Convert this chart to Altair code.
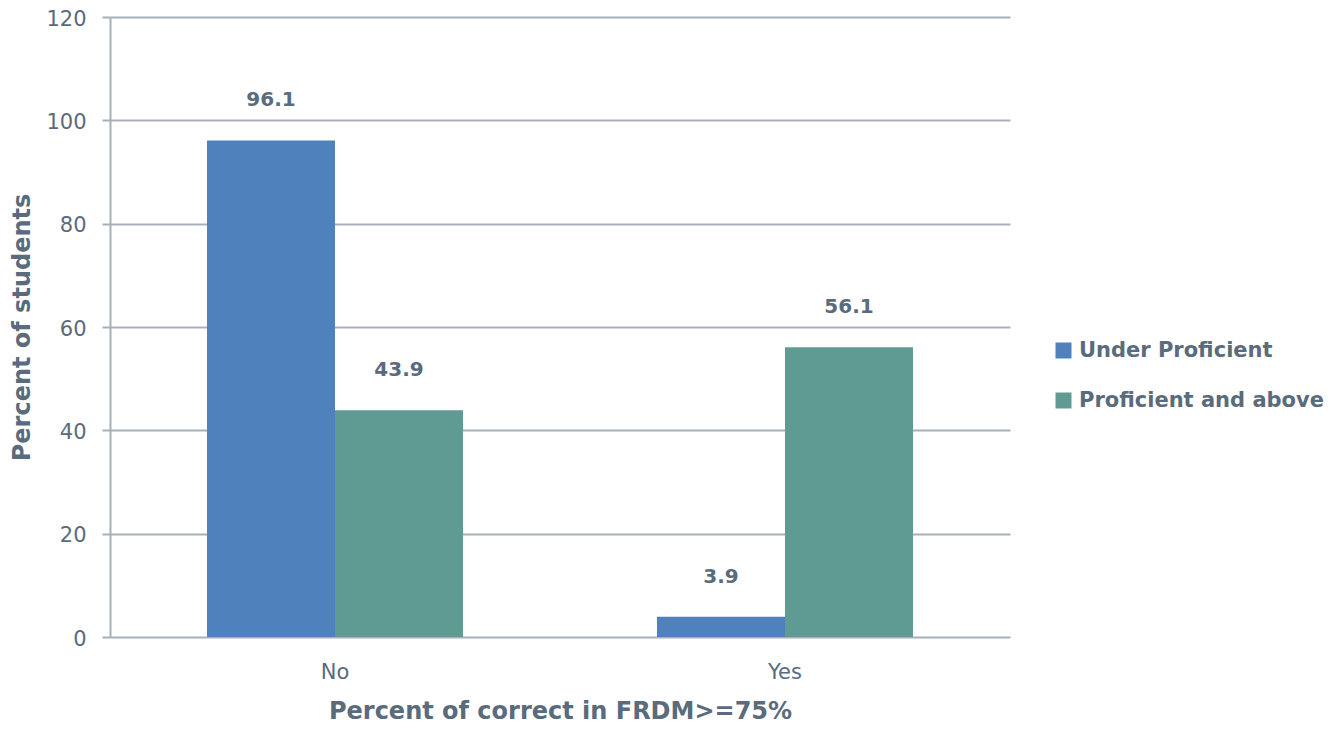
import altair as alt
import pandas as pd

categories = ["No", "No", "Yes", "Yes"]
groups = ["Under Proficient", "Proficient and above", "Under Proficient", "Proficient and above"]
values = [96.1, 43.9, 3.9, 56.1]
group_order = ["Under Proficient", "Proficient and above"]
colors = ["#4f81bd", "#5f9b93"]

df = pd.DataFrame({"cat": categories, "grp": groups, "val": values})
df["lbl"] = df["val"].map(lambda v: f"{v:.1f}")

TXT = "#596b7c"
GRID = "#a7b0b9"
FONT = "DejaVu Sans"

base = alt.Chart(df).encode(
    x=alt.X("cat:N", title="Percent of correct in FRDM>=75%",
            scale=alt.Scale(paddingInner=0, paddingOuter=0),
            axis=alt.Axis(labelAngle=0, ticks=False, domain=False, grid=False,
                          labelFontSize=21, labelFont=FONT, labelFontWeight="normal", labelColor=TXT,
                          labelPadding=24, titleFontSize=24, titleFont=FONT, titleFontWeight="bold",
                          titleColor=TXT, titlePadding=17)),
    xOffset=alt.XOffset("grp:N", sort=group_order,
                        scale=alt.Scale(paddingInner=0, paddingOuter=0.758)),
)

bars = base.mark_bar(size=128).encode(
    y=alt.Y("val:Q", title="Percent of students",
            scale=alt.Scale(domain=[0, 120]),
            axis=alt.Axis(values=[0, 20, 40, 60, 80, 100, 120], tickSize=8, tickColor=GRID, tickWidth=2,
                          gridColor=GRID, gridWidth=2, domainColor=GRID, domainWidth=2,
                          labelFontSize=21, labelFont=FONT, labelFontWeight="normal", labelColor=TXT,
                          labelPadding=16, labelOffset=2,
                          titleFontSize=24, titleFont=FONT, titleFontWeight="bold",
                          titleColor=TXT, titlePadding=11)),
    color=alt.Color("grp:N", sort=group_order,
                    scale=alt.Scale(domain=group_order, range=colors),
                    legend=alt.Legend(title=None, orient="none", legendX=943, legendY=323,
                                      symbolType="square", symbolSize=256, symbolStrokeWidth=0,
                                      labelFontSize=21, labelFont=FONT, labelFontWeight="bold",
                                      labelColor=TXT, labelOffset=5, labelLimit=500,
                                      rowPadding=28, padding=0)),
)

labels = base.mark_text(baseline="bottom", dy=-30, fontSize=20, font=FONT,
                        fontWeight="bold", color=TXT).encode(
    y=alt.Y("val:Q"),
    text="lbl:N",
)

chart = (bars + labels).properties(
    width=900, height=620,
    autosize=alt.AutoSizeParams(type="none"),
    padding={"left": 102, "top": 9, "right": 320, "bottom": 88},
    background="white",
).configure_view(stroke=None)

chart.save("out.html", embed_options={"renderer": "svg", "actions": False})
